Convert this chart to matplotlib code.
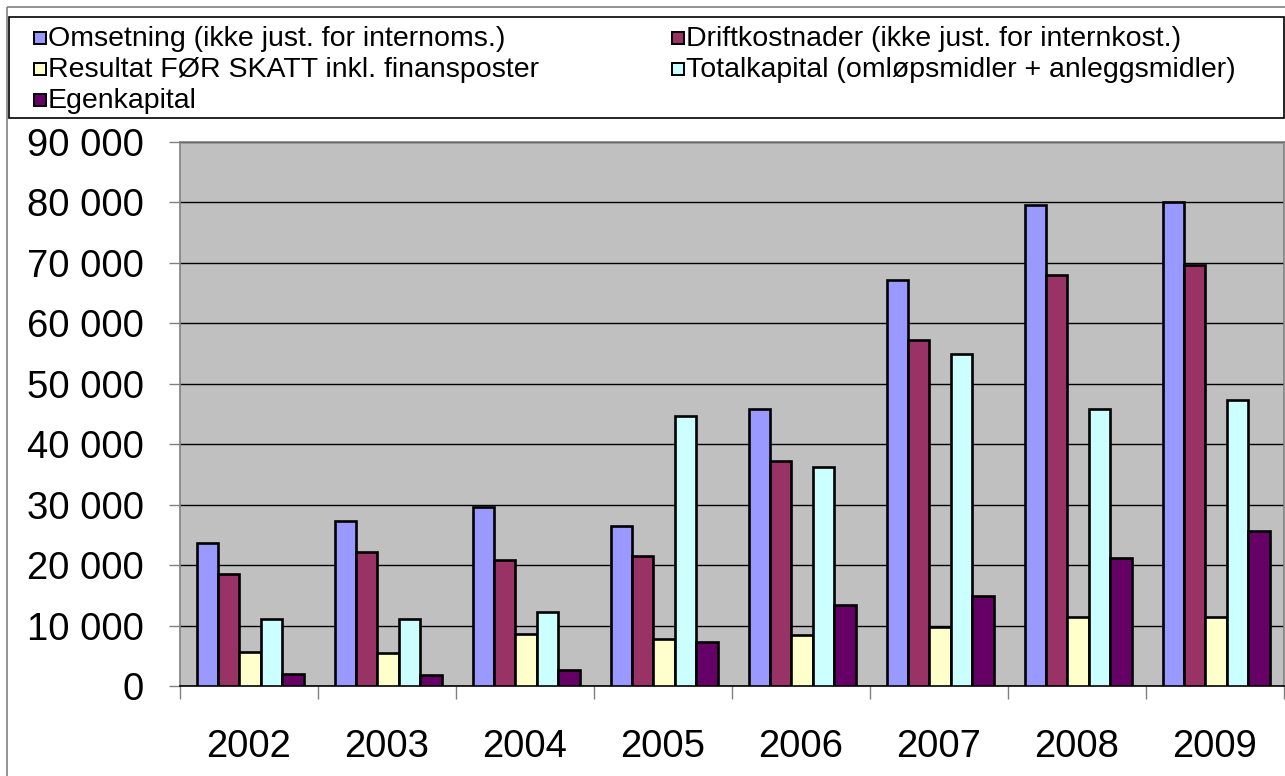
import numpy as np
import matplotlib
matplotlib.use("Agg")
import matplotlib.pyplot as plt
from matplotlib.patches import Rectangle
from matplotlib.ticker import FuncFormatter, MultipleLocator

plt.rcParams['font.family'] = ['Liberation Sans', 'DejaVu Sans']

years = ['2002', '2003', '2004', '2005', '2006', '2007', '2008', '2009']

series_names = [
    'Omsetning (ikke just. for internoms.)',
    'Driftkostnader (ikke just. for internkost.)',
    'Resultat FØR SKATT inkl. finansposter',
    'Totalkapital (omløpsmidler + anleggsmidler)',
    'Egenkapital',
]
omsetning = [23700, 27250, 29600, 26500, 45800, 67200, 79500, 80100]
driftkostnader = [18500, 22250, 20900, 21500, 37300, 57250, 68000, 69700]
resultat = [5700, 5450, 8600, 7800, 8500, 9850, 11400, 11400]
totalkapital = [11200, 11100, 12200, 44600, 36200, 54900, 45850, 47300]
egenkapital = [2000, 1900, 2700, 7300, 13400, 15000, 21250, 25650]

colors = ['#9999FF', '#993366', '#FFFFCC', '#CCFFFF', '#660066']

W, H = 1285, 776
fig = plt.figure(figsize=(W / 100, H / 100), dpi=100)
fig.patch.set_facecolor('white')

# plot area in pixel terms
left, right, top, bottom = 180, 1284, 141.7, 686.3
ax = fig.add_axes([left / W, 1 - bottom / H, (right - left) / W, (bottom - top) / H])
ax.set_facecolor('#C0C0C0')

x = np.arange(len(years))
width = 0.155
all_values = [omsetning, driftkostnader, resultat, totalkapital, egenkapital]
for i, (vals, col) in enumerate(zip(all_values, colors)):
    ax.bar(x + (i - 2) * width + 0.008, vals, width, color=col, edgecolor='black',
           linewidth=1.9, zorder=3)

ax.set_xlim(-0.5, len(years) - 0.5)
ax.set_ylim(0, 90000)
ax.yaxis.set_major_locator(MultipleLocator(10000))
ax.yaxis.set_major_formatter(FuncFormatter(lambda v, p: f'{int(v):,}'.replace(',', ' ')))
ax.yaxis.grid(True, color='black', linewidth=1.0, zorder=1)
ax.set_axisbelow(True)

ax.set_xticks(x)
ax.set_xticklabels(years)
ax.set_xticks(np.arange(len(years) + 1) - 0.5, minor=True)
ax.tick_params(axis='x', which='major', length=0, pad=31, labelsize=27.5)
ax.tick_params(axis='x', which='minor', length=9, width=1, color='#808080', direction='out')
ax.tick_params(axis='y', which='major', length=8, width=1, color='#808080',
               direction='out', pad=18, labelsize=27.5)

for side in ['left', 'top', 'right']:
    ax.spines[side].set_color('#808080')
    ax.spines[side].set_linewidth(1.2)
ax.spines['bottom'].set_color('black')
ax.spines['bottom'].set_linewidth(1.2)

# overlay in pixel coordinates for the chart frame and legend
ov = fig.add_axes([0, 0, 1, 1], zorder=5)
ov.set_xlim(0, W)
ov.set_ylim(H, 0)
ov.axis('off')
ov.patch.set_alpha(0)

ov.add_patch(Rectangle((6.5, 6.5), W + 10, H + 10, fill=False, edgecolor='#808080', linewidth=1.2))
ov.add_patch(Rectangle((8.5, 16.5), 1275, 101, facecolor='white', edgecolor='black', linewidth=1.2))

col_x = [34, 672]
row_y = [38, 69, 100]
for k, name in enumerate(series_names):
    r, c = divmod(k, 2)
    mx, my = col_x[c], row_y[r]
    ov.add_patch(Rectangle((mx, my - 6), 12, 12, facecolor=colors[k],
                           edgecolor='black', linewidth=1.4))
    ov.text(mx + 14, my + 1, name, fontsize=20.5, va='center', ha='left')

fig.savefig('out.png', dpi=100)
